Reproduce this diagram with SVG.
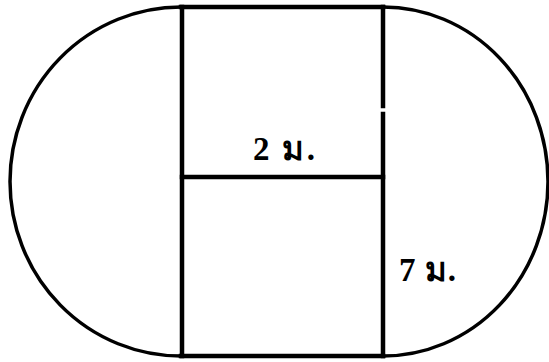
<svg xmlns="http://www.w3.org/2000/svg" width="549" height="362" viewBox="0 0 549 362">
<style>
.ln{stroke:#000;stroke-width:4.5;fill:none;stroke-linecap:square}
.arc{stroke:#000;stroke-width:3.5;fill:none}
.lbl{font-family:"Liberation Serif","Noto Sans",serif;font-weight:bold;font-size:33px;fill:#000}
</style>
<rect width="549" height="362" fill="#fff"/>
<g id="shape">
<path class="arc" d="M181,7 A171,174.5 0 0 0 181,356"/>
<path class="arc" d="M383,7 A165,174.5 0 0 1 383,356"/>
<line class="ln" x1="181" y1="7" x2="383" y2="7"/>
<line class="ln" x1="181" y1="356" x2="383" y2="356"/>
<line class="ln" x1="182" y1="7" x2="182" y2="356"/>
<line class="ln" x1="182" y1="177" x2="383" y2="177"/>
<line class="ln" x1="383" y1="7" x2="383" y2="106"/>
<line class="ln" x1="383" y1="114" x2="383" y2="356"/>
</g>
<g id="labels">
<text class="lbl" x="253" y="160" textLength="62" lengthAdjust="spacing">2 ม.</text>
<text class="lbl" x="399" y="281" textLength="57" lengthAdjust="spacing">7 ม.</text>
</g>
</svg>
